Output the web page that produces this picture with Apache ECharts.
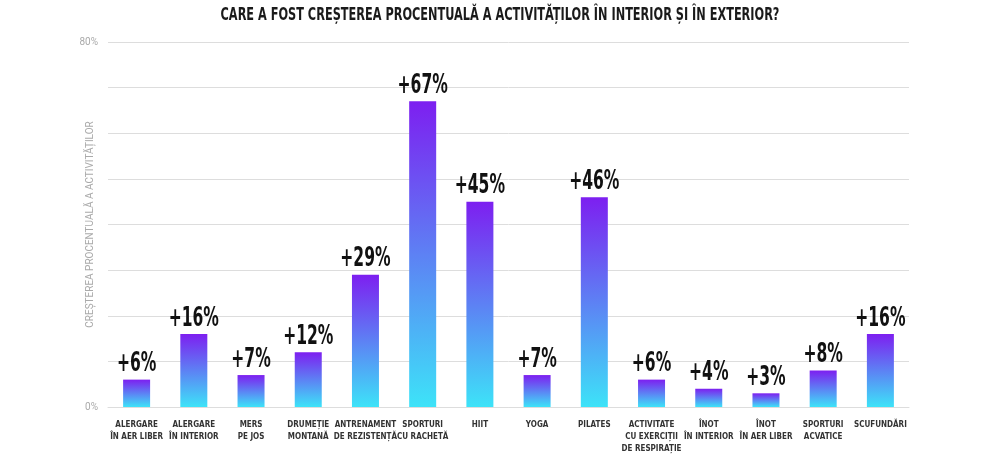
<!DOCTYPE html>
<html><head><meta charset="utf-8">
<script src="https://cdn.jsdelivr.net/npm/echarts@6/dist/echarts.min.js"></script>
<style>html,body{margin:0;padding:0;background:#fff}#c{width:1000px;height:455px}</style>
</head><body><div id="c"></div>
<script>
const titleText = 'CARE A FOST CREȘTEREA PROCENTUALĂ A ACTIVITĂȚILOR ÎN INTERIOR ȘI ÎN EXTERIOR?';
const yAxisName = 'CREȘTEREA PROCENTUALĂ A ACTIVITĂȚILOR';
const categories = [
  'ALERGARE\nÎN AER LIBER', 'ALERGARE\nÎN INTERIOR', 'MERS\nPE JOS', 'DRUMEȚIE\nMONTANĂ',
  'ANTRENAMENT\nDE REZISTENȚĂ', 'SPORTURI\nCU RACHETĂ', 'HIIT', 'YOGA', 'PILATES',
  'ACTIVITATE\nCU EXERCIȚII\nDE RESPIRAȚIE', 'ÎNOT\nÎN INTERIOR', 'ÎNOT\nÎN AER LIBER',
  'SPORTURI\nACVATICE', 'SCUFUNDĂRI'
];
const values = [6, 16, 7, 12, 29, 67, 45, 7, 46, 6, 4, 3, 8, 16];
const yTickLabels = { 0: '0%', 80: '80%' };

const font = '"DejaVu Sans Condensed", sans-serif';
const chart = echarts.init(document.getElementById('c'));
chart.setOption({
  animation: false,
  graphic: [{
    type: 'text', x: 500, y: 7, scaleX: 0.74,
    style: { text: titleText, align: 'center', verticalAlign: 'top',
      font: 'bold 17px "DejaVu Sans Condensed", sans-serif', fill: '#1a1a1a' }
  }],
  grid: { left: 108, right: 91, top: 42, bottom: 47 },
  xAxis: {
    type: 'category', data: categories,
    axisLine: { lineStyle: { color: '#dddddd' } },
    axisTick: { show: false },
    axisLabel: { interval: 0, fontFamily: font, fontWeight: 'bold', fontSize: 8, color: '#333', lineHeight: 12, margin: 12 }
  },
  yAxis: {
    type: 'value', min: 0, max: 80, interval: 10,
    name: yAxisName, nameLocation: 'middle', nameGap: 13, nameRotate: 90, nameMoveOverlap: false,
    nameTextStyle: { fontFamily: 'Roboto, sans-serif', fontSize: 10, color: '#aaa' },
    axisLine: { show: false }, axisTick: { show: false },
    axisLabel: { formatter: v => yTickLabels[v] || '', fontFamily: 'Roboto, sans-serif', fontSize: 10, color: '#aaa', margin: 10 },
    splitLine: { lineStyle: { color: '#dddddd' } }
  },
  series: [{
    type: 'bar', data: values, barWidth: 27,
    itemStyle: {
      color: new echarts.graphic.LinearGradient(0, 0, 0, 1, [
        { offset: 0, color: '#7d1ff0' }, { offset: 1, color: '#3de3f8' }
      ])
    }
  }, {
    type: 'custom', data: values.map((v, i) => [i, v]), z: 5,
    renderItem: (params, api) => {
      const p = api.coord([api.value(0), api.value(1)]);
      return {
        type: 'text', x: p[0], y: p[1] - 2, scaleX: 0.64,
        style: { text: '+' + api.value(1) + '%', align: 'center', verticalAlign: 'bottom',
          font: 'bold 27px "DejaVu Sans Condensed", sans-serif', fill: '#111' }
      };
    }
  }]
});
</script></body></html>
